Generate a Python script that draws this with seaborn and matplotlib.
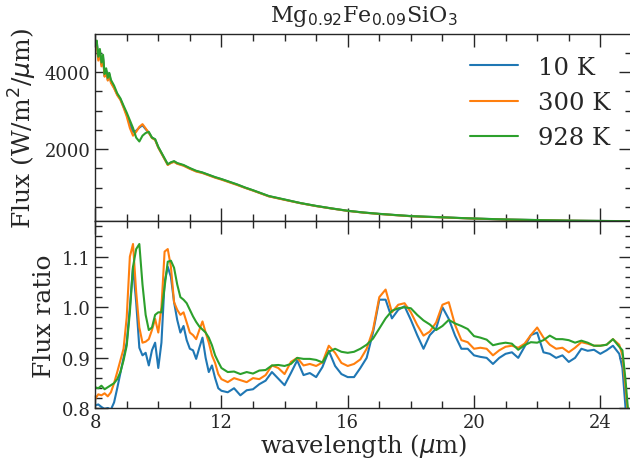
import numpy as np
import pandas as pd
import seaborn as sns
import matplotlib.pyplot as plt
from matplotlib.ticker import MultipleLocator

temps = ["10 K", "300 K", "928 K"]

# top panel: emitted flux (W/m^2/um)
wl_flux = [8.0, 8.05, 8.1, 8.15, 8.2, 8.25, 8.3, 8.35, 8.4, 8.45, 8.5, 8.6, 8.7, 8.8, 8.9,
           9.0, 9.1, 9.2, 9.3, 9.4, 9.5, 9.6, 9.7, 9.8, 9.9, 10.0, 10.1, 10.2, 10.3, 10.4,
           10.5, 10.6, 10.8, 11.0, 11.2, 11.4, 11.6, 11.8, 12.0, 12.25, 12.5, 12.75, 13.0,
           13.5, 14.0, 14.5, 15.0, 15.5, 16.0, 16.5, 17.0, 17.5, 18.0, 18.5, 19.0, 19.5,
           20.0, 21.0, 22.0, 23.0, 24.0, 25.0]
flux_10 = [4650, 4800, 4350, 4550, 4200, 4400, 3900, 4050, 3800, 3950, 3750, 3600, 3420, 3300, 3100,
           2900, 2650, 2450, 2480, 2560, 2620, 2520, 2430, 2300, 2250, 2050, 1900, 1750, 1600, 1650,
           1680, 1630, 1580, 1500, 1430, 1390, 1330, 1270, 1220, 1150, 1080, 1000, 930,
           780, 690, 600, 525, 460, 400, 355, 320, 290, 262, 245, 232, 215,
           200, 175, 160, 145, 137, 130]
flux_300 = [4600, 4750, 4300, 4500, 4150, 4350, 3880, 4000, 3780, 3920, 3720, 3580, 3400, 3280, 3080,
            2850, 2550, 2350, 2450, 2580, 2650, 2540, 2420, 2290, 2240, 2040, 1890, 1740, 1590, 1640,
            1670, 1620, 1570, 1490, 1420, 1380, 1320, 1260, 1210, 1140, 1070, 995, 925,
            775, 685, 598, 522, 458, 398, 353, 318, 288, 260, 243, 230, 213,
            198, 173, 158, 144, 136, 130]
flux_928 = [4700, 4820, 4400, 4600, 4250, 4450, 3950, 4100, 3850, 3980, 3800, 3650, 3450, 3320, 3130,
            2950, 2750, 2550, 2300, 2200, 2350, 2420, 2450, 2300, 2260, 2060, 1910, 1760, 1610, 1660,
            1690, 1640, 1590, 1510, 1440, 1395, 1335, 1275, 1225, 1155, 1085, 1005, 935,
            785, 695, 603, 528, 462, 402, 357, 322, 292, 264, 247, 233, 216,
            201, 176, 161, 146, 138, 131]

# bottom panel: flux ratio
wl_ratio = [8.0, 8.1, 8.2, 8.3, 8.4, 8.5, 8.6, 8.7, 8.8, 8.9, 9.0, 9.1, 9.2, 9.3, 9.4, 9.5,
            9.6, 9.7, 9.8, 9.9, 10.0, 10.1, 10.2, 10.3, 10.4, 10.5, 10.6, 10.7, 10.8, 10.9,
            11.0, 11.1, 11.2, 11.3, 11.4, 11.5, 11.6, 11.7, 11.8, 11.9, 12.0,
            12.2, 12.4, 12.6, 12.8, 13.0, 13.2, 13.4, 13.6, 13.8, 14.0, 14.2, 14.4, 14.6,
            14.8, 15.0, 15.2, 15.4, 15.6, 15.8, 16.0, 16.2, 16.4, 16.6, 16.8, 17.0, 17.2,
            17.4, 17.6, 17.8, 18.0, 18.2, 18.4, 18.6, 18.8, 19.0, 19.2, 19.4, 19.6, 19.8,
            20.0, 20.2, 20.4, 20.6, 20.8, 21.0, 21.2, 21.4, 21.6, 21.8, 22.0, 22.2, 22.4,
            22.6, 22.8, 23.0, 23.2, 23.4, 23.6, 23.8, 24.0, 24.2, 24.4, 24.6, 24.7, 24.8,
            24.9, 25.0]
ratio_10 = [0.806, 0.808, 0.803, 0.799, 0.801, 0.798, 0.812, 0.840, 0.870, 0.900, 0.930, 1.000,
            1.080, 1.010, 0.920, 0.905, 0.910, 0.885, 0.915, 0.930, 0.880, 0.930, 1.050, 1.080,
            1.060, 1.010, 0.975, 0.950, 0.963, 0.935, 0.918, 0.915, 0.898, 0.920, 0.940, 0.900,
            0.872, 0.885, 0.860, 0.840, 0.835,
            0.832, 0.840, 0.826, 0.836, 0.838, 0.848, 0.855, 0.872, 0.859, 0.846, 0.870, 0.895,
            0.866, 0.870, 0.862, 0.882, 0.914, 0.884, 0.868, 0.862, 0.862, 0.880, 0.900, 0.950,
            1.015, 1.015, 0.978, 0.995, 1.002, 0.975, 0.945, 0.918, 0.945, 0.958, 1.000, 0.977,
            0.944, 0.918, 0.918, 0.905, 0.902, 0.900, 0.888, 0.900, 0.908, 0.911, 0.900, 0.922,
            0.945, 0.950, 0.911, 0.908, 0.900, 0.905, 0.892, 0.900, 0.918, 0.914, 0.916, 0.908,
            0.915, 0.924, 0.908, 0.880, 0.800, 0.760, 0.740]
ratio_300 = [0.819, 0.828, 0.826, 0.830, 0.824, 0.832, 0.850, 0.872, 0.895, 0.918, 0.980, 1.100,
             1.125, 1.030, 0.960, 0.930, 0.932, 0.937, 0.955, 0.977, 0.950, 1.000, 1.110, 1.115,
             1.080, 1.010, 0.995, 0.985, 0.990, 0.970, 0.950, 0.945, 0.937, 0.955, 0.972, 0.950,
             0.930, 0.905, 0.890, 0.868, 0.858,
             0.852, 0.860, 0.856, 0.852, 0.860, 0.858, 0.866, 0.885, 0.880, 0.868, 0.892, 0.900,
             0.885, 0.888, 0.884, 0.891, 0.924, 0.910, 0.890, 0.884, 0.888, 0.897, 0.918, 0.955,
             1.020, 1.035, 0.990, 1.005, 1.008, 0.990, 0.965, 0.944, 0.952, 0.970, 1.005, 1.010,
             0.965, 0.935, 0.931, 0.918, 0.920, 0.918, 0.905, 0.915, 0.922, 0.924, 0.920, 0.928,
             0.945, 0.960, 0.940, 0.926, 0.918, 0.920, 0.911, 0.920, 0.931, 0.928, 0.924, 0.924,
             0.926, 0.937, 0.926, 0.905, 0.840, 0.770, 0.750]
ratio_928 = [0.842, 0.840, 0.845, 0.838, 0.842, 0.846, 0.850, 0.858, 0.872, 0.895, 0.924, 0.990,
             1.080, 1.115, 1.125, 1.045, 0.985, 0.955, 0.960, 0.985, 0.990, 0.990, 1.040, 1.090,
             1.092, 1.078, 1.045, 1.020, 1.015, 1.008, 0.995, 0.982, 0.971, 0.962, 0.956, 0.950,
             0.940, 0.925, 0.905, 0.892, 0.880,
             0.872, 0.873, 0.868, 0.872, 0.869, 0.875, 0.876, 0.885, 0.886, 0.884, 0.888, 0.900,
             0.898, 0.898, 0.896, 0.891, 0.912, 0.918, 0.912, 0.910, 0.912, 0.918, 0.926, 0.938,
             0.958, 0.978, 0.993, 0.998, 1.000, 0.998, 0.985, 0.974, 0.966, 0.955, 0.963, 0.975,
             0.968, 0.963, 0.957, 0.943, 0.940, 0.936, 0.925, 0.928, 0.930, 0.928, 0.916, 0.925,
             0.931, 0.930, 0.935, 0.944, 0.937, 0.937, 0.935, 0.930, 0.934, 0.930, 0.924, 0.924,
             0.926, 0.937, 0.922, 0.915, 0.855, 0.780, 0.760]

flux_df = pd.concat([pd.DataFrame({"wavelength": wl_flux, "value": v, "T": t})
                     for v, t in zip([flux_10, flux_300, flux_928], temps)])
ratio_df = pd.concat([pd.DataFrame({"wavelength": wl_ratio, "value": v, "T": t})
                      for v, t in zip([ratio_10, ratio_300, ratio_928], temps)])

sns.set_theme(style="ticks")
plt.rcParams["font.family"] = ["DejaVu Serif"]
plt.rcParams["mathtext.fontset"] = "dejavusans"

fig, (ax1, ax2) = plt.subplots(2, 1, sharex=True, figsize=(6.3, 4.64), dpi=100)
plt.subplots_adjust(left=0.151, right=1.003, top=0.9246, bottom=0.1175, hspace=0)

pal = sns.color_palette("tab10", 3)
sns.lineplot(data=flux_df, x="wavelength", y="value", hue="T", palette=pal,
             estimator=None, sort=False, lw=1.5, ax=ax1)
sns.lineplot(data=ratio_df, x="wavelength", y="value", hue="T", palette=pal,
             estimator=None, sort=False, lw=1.5, legend=False, ax=ax2)

ax1.set_xlim(8, 25)
ax1.set_ylim(130, 4990)
ax2.set_ylim(0.8, 1.17)

ax1.set_title("Mg$_{0.92}$Fe$_{0.09}$SiO$_3$", fontsize=16, pad=9)
ax1.set_ylabel("Flux (W/m$^2$/$\\mu$m)", fontsize=18)
ax1.set_xlabel("")
ax2.set_ylabel("Flux ratio", fontsize=18)
ax2.set_xlabel("wavelength ($\\mu$m)", fontsize=17.5, labelpad=0)

ax1.yaxis.set_major_locator(MultipleLocator(2000))
ax1.yaxis.set_minor_locator(MultipleLocator(500))
ax2.yaxis.set_major_locator(MultipleLocator(0.1))
ax2.yaxis.set_minor_locator(MultipleLocator(0.02))
ax2.xaxis.set_major_locator(MultipleLocator(4))
ax2.xaxis.set_minor_locator(MultipleLocator(1))

for ax in (ax1, ax2):
    ax.tick_params(which="both", direction="in", top=True, right=True, labelsize=13, width=1)
    ax.tick_params(which="major", length=9.5)
    ax.tick_params(which="minor", length=5)
    for s in ax.spines.values():
        s.set_linewidth(1)

ax1.legend(loc="upper right", frameon=False, fontsize=17.5, handlelength=2, title=None)

plt.savefig("out.png", dpi=100)
